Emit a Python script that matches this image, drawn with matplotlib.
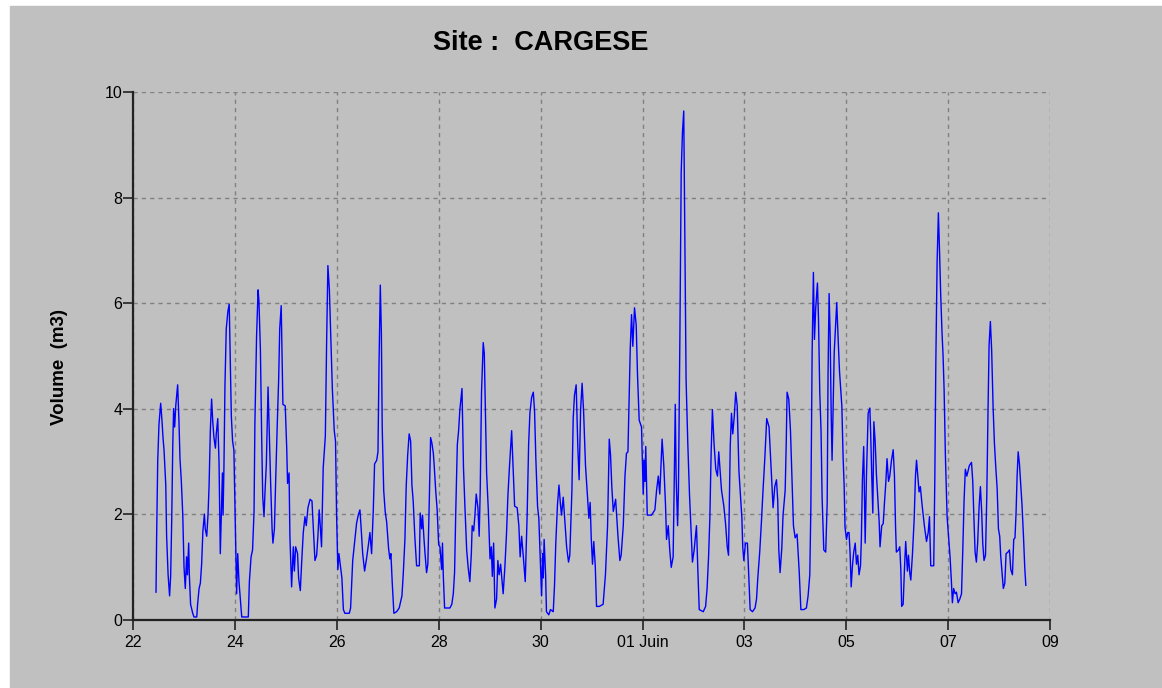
import matplotlib
matplotlib.use("Agg")
import numpy as np
import matplotlib.pyplot as plt
from matplotlib.patches import Rectangle

plt.rcParams['font.family'] = ['Liberation Sans', 'DejaVu Sans']

# hours since 22 May 00:00 and volume (m3)
hours = [
    10.7, 11.0, 11.5, 12.1, 12.9, 13.5, 14.0, 14.5, 15.3, 15.7, 16.4, 17.1, 17.6, 18.1, 18.6, 19.0, 19.5, 20.0,
    20.9, 21.5, 22.0, 22.6, 23.3, 23.9, 24.5, 25.1, 25.5, 26.1, 26.4, 27.0, 28.0, 28.6, 29.9, 30.3, 31.0, 31.6,
    32.2, 32.8, 33.5, 33.9, 34.6, 35.2, 35.7, 36.3, 36.9, 37.4, 38.0, 38.7, 39.1, 39.8, 40.4, 41.0, 41.5, 42.0,
    42.3, 42.7, 43.2, 43.8, 44.6, 45.2, 45.6, 46.2, 46.8, 47.4, 48.1, 48.7, 49.2, 49.8,
    51.1, 54.2, 54.7, 55.5, 56.2, 56.9, 57.3, 58.1, 58.8, 59.2, 59.9, 60.5, 61.0, 61.6, 62.1, 62.7, 63.5, 63.9,
    64.7, 65.4, 65.8, 66.5, 67.1, 67.9, 68.5, 69.0, 69.7, 70.1, 70.5, 71.6, 72.3, 72.7, 73.4, 73.8, 74.6, 75.4,
    75.9, 76.5, 77.4, 77.9, 78.7, 79.3, 80.1, 80.9, 81.5, 82.3, 83.3, 84.2, 85.0, 85.6, 86.4, 87.0, 87.6, 88.1,
    88.7, 89.5, 90.5, 91.1, 91.7, 92.4, 93.0, 93.8, 94.7, 95.3, 95.8, 96.4, 96.9,
    98.3, 99.0, 99.7, 101.8, 102.4, 102.9, 103.4, 104.0, 104.6, 105.2, 106.0, 106.8, 107.3, 108.1, 109.0, 109.9,
    110.9, 111.5, 112.3, 113.1, 113.7, 114.7, 115.3, 115.8, 116.4, 116.9, 117.3, 118.0, 118.7, 119.4, 120.3,
    120.9, 121.4, 122.0, 122.8, 124.1, 125.3, 126.6, 127.2, 128.0, 128.6, 129.3, 130.0, 130.7, 131.3, 131.9,
    132.7, 133.5, 134.8, 135.2, 135.9, 136.3, 137.0, 137.6, 138.2, 138.8, 139.5, 140.1, 140.7, 141.4, 141.8,
    142.5, 143.2, 143.9,
    144.5, 145.3, 145.7, 146.1, 146.7, 149.2, 150.1, 150.8, 151.4, 152.0, 152.7, 153.3, 153.9, 154.9, 155.2,
    155.6, 156.3, 157.1, 157.8, 158.6, 159.3, 159.7, 160.4, 161.0, 161.6, 162.4, 163.0, 163.5, 164.1, 164.9,
    165.4, 165.9, 166.5, 167.3, 168.1, 168.7, 169.2, 169.8, 170.4, 171.2, 171.8, 172.4, 173.1, 174.3, 175.1,
    175.9, 176.5, 177.2, 178.3, 179.0, 179.7, 180.9, 181.7, 182.3, 183.0, 183.8, 184.7, 185.6, 186.3, 186.9,
    187.7, 188.5, 189.1, 189.7, 190.5, 191.1,
    192.4, 192.9, 193.2, 193.6, 194.3, 194.7, 195.8, 196.6, 197.9, 198.5, 199.1, 199.9, 200.6, 201.3, 201.8,
    202.6, 203.4, 204.2, 205.1, 205.7, 206.7, 207.3, 207.9, 208.7, 209.5, 210.1, 210.8, 211.5, 212.2, 213.1,
    214.1, 214.7, 215.3, 215.8, 216.4, 217.0, 217.7, 218.3, 219.6, 221.4, 222.5, 223.5, 224.3, 224.9, 225.5,
    226.2, 227.3, 228.4, 229.3, 229.9, 230.9, 231.7, 232.4, 233.1, 233.5, 234.2, 234.8, 235.4, 236.2, 237.0,
    237.6, 238.4,
    239.5, 240.3, 240.8, 241.1, 241.5, 242.2, 244.2, 245.8, 246.6, 247.4, 248.1, 248.6, 249.2, 250.0, 250.8,
    251.3, 252.1, 252.8, 253.5, 254.4, 254.9, 255.4, 255.8, 256.5, 256.9, 257.6, 258.2, 258.8, 259.4, 259.9,
    260.5, 261.3, 262.1, 262.7, 263.5, 264.3, 265.4, 266.0, 266.7, 268.6, 269.7, 270.4, 271.1, 271.7, 272.3,
    272.9, 273.7, 274.5, 275.3, 275.9, 276.6, 277.2, 278.3, 279.1, 279.9, 280.5, 281.3, 281.9, 282.5, 283.2,
    283.9, 284.6, 285.4,
    286.8, 287.2, 287.7, 288.5, 289.4, 290.1, 290.7, 291.8, 293.0, 293.7, 294.3, 295.2, 296.0, 296.8, 297.6,
    298.5, 299.6, 300.7, 301.5, 302.3, 303.1, 303.7, 304.2, 304.8, 305.6, 306.2, 307.2, 307.7, 308.1, 308.9,
    309.7, 310.5, 311.1, 311.9, 312.8, 313.8, 314.6, 316.0, 317.2, 318.0, 318.8, 319.3, 319.9, 320.5, 321.0,
    321.6, 322.4, 322.9, 323.5, 324.1, 324.6, 325.4, 326.3, 327.0, 327.4, 327.9, 328.4, 328.9, 329.3, 330.3,
    331.1, 331.5, 332.2, 332.8,
    333.9, 334.5, 335.0, 335.4, 336.1, 336.7, 337.3, 337.8, 338.3, 338.9, 339.5, 340.2, 340.8, 341.4, 342.0,
    342.7, 343.1, 343.6, 344.2, 344.9, 345.5, 346.3, 347.1, 347.5, 348.0, 348.5, 349.0, 349.6, 350.2, 350.8,
    351.5, 351.9, 352.7, 353.4, 354.0, 354.6, 355.2, 355.9, 356.5, 357.3, 358.1, 358.7, 359.2, 359.6, 360.6,
    361.2, 361.7, 362.1, 362.8, 363.4, 364.0, 364.8, 365.3, 365.9, 366.4, 367.2, 368.0, 368.6, 369.1, 369.7,
    370.3, 370.9, 371.7, 372.8, 373.8, 374.6, 375.2, 375.8, 377.2, 377.7, 378.2, 378.8, 379.4, 379.9,
    380.5, 381.1, 381.6, 382.1, 382.7, 383.5, 384.3, 384.9, 385.5, 386.0, 386.6, 387.3, 387.9, 388.7, 389.5,
    390.3, 390.9, 391.5, 392.1, 392.8, 393.4, 394.0, 395.0, 395.6, 396.1, 396.7, 397.3, 397.9, 398.6, 399.2,
    399.8, 400.3, 400.9, 401.6, 402.2, 402.8, 403.3, 403.9, 404.5, 405.2, 405.8, 406.4, 407.1, 407.7, 408.3,
    408.8, 409.4, 410.0, 410.7, 411.3, 412.2, 412.9, 413.5, 414.3, 414.9, 415.5, 416.0, 416.5, 417.0, 417.6,
    418.2, 418.8, 419.5, 420.1, 420.6,
]

volume = [
    0.52, 1.58, 3.0, 3.7, 4.1, 3.78, 3.45, 3.2, 2.55, 1.58, 0.85, 0.45, 0.82, 1.88, 3.3, 4.0, 3.65, 4.05,
    4.45, 3.78, 3.05, 2.65, 2.0, 1.0, 0.59, 1.19, 0.85, 1.45, 0.85, 0.29, 0.12, 0.05, 0.05, 0.29, 0.59, 0.69,
    1.05, 1.68, 2.0, 1.72, 1.58, 1.98, 2.52, 3.58, 4.18, 3.78, 3.45, 3.25, 3.52, 3.81, 2.98, 1.25, 2.05, 2.78,
    1.98, 2.85, 4.45, 5.51, 5.85, 5.98, 5.11, 3.85, 3.38, 3.22, 1.78, 0.49, 1.25, 0.72,
    0.05, 0.05, 0.72, 1.19, 1.32, 2.05, 3.71, 5.38, 6.25, 6.04, 5.11, 3.45, 2.32, 1.95, 2.45, 2.95, 4.41, 3.81,
    2.62, 1.72, 1.45, 1.72, 2.65, 3.78, 4.55, 5.51, 5.95, 4.98, 4.08, 4.05, 3.25, 2.58, 2.78, 1.58, 0.62, 1.38,
    0.92, 1.38, 1.25, 0.79, 0.55, 1.05, 1.65, 1.95, 1.78, 2.12, 2.28, 2.25, 1.58, 1.12, 1.22, 1.58, 2.08, 1.78,
    1.38, 2.88, 3.48, 5.25, 6.71, 6.25, 5.45, 4.38, 3.58, 3.38, 1.98, 0.95, 1.25,
    0.79, 0.19, 0.12, 0.12, 0.22, 0.65, 1.12, 1.35, 1.58, 1.82, 1.98, 2.08, 1.78, 1.25, 0.92, 1.15,
    1.45, 1.65, 1.25, 2.08, 2.95, 3.02, 3.18, 4.85, 6.34, 5.45, 3.65, 2.45, 2.05, 1.85, 1.35,
    1.15, 1.25, 0.72, 0.12, 0.15, 0.22, 0.45, 0.85, 1.52, 2.52, 3.12, 3.52, 3.38, 2.55, 2.25,
    1.55, 1.02, 1.02, 2.02, 1.72, 1.98, 1.52, 1.19, 0.89, 1.05, 2.28, 3.45, 3.35, 3.15, 2.92,
    2.45, 2.08, 1.42,
    1.38, 0.95, 1.45, 0.82, 0.22, 0.22, 0.29, 0.49, 0.89, 2.12, 3.32, 3.58, 3.98, 4.38, 3.78,
    2.88, 2.12, 1.32, 0.99, 0.72, 1.25, 1.78, 1.68, 1.98, 2.38, 2.12, 1.58, 2.48, 4.31, 5.25,
    5.05, 3.98, 2.78, 2.08, 1.15, 1.38, 0.82, 1.45, 0.22, 0.39, 1.12, 0.85, 1.05, 0.49, 0.99,
    1.65, 2.32, 2.85, 3.58, 2.85, 2.15, 2.12, 1.78, 1.19, 1.58, 1.19, 0.72, 1.98, 3.32, 3.91,
    4.21, 4.31, 3.95, 3.05, 2.15, 1.92,
    0.45, 1.25, 0.79, 1.52, 0.85, 0.15, 0.09, 0.19, 0.15, 0.65, 1.45, 2.18, 2.55, 2.18, 1.98,
    2.32, 1.85, 1.38, 1.09, 1.22, 2.45, 3.81, 4.25, 4.45, 3.25, 2.65, 3.98, 4.48, 3.95, 2.92,
    2.28, 1.92, 2.22, 1.55, 1.05, 1.48, 1.02, 0.25, 0.25, 0.29, 0.85, 1.78, 3.42, 3.12, 2.52,
    2.05, 2.28, 1.58, 1.12, 1.22, 1.78, 2.72, 3.15, 3.18, 3.88, 5.15, 5.78, 5.18, 5.91, 5.58,
    4.65, 3.78,
    3.65, 2.38, 3.02, 2.62, 3.28, 1.98, 1.98, 2.08, 2.45, 2.72, 2.38, 2.85, 3.42, 2.92, 2.18,
    1.52, 1.78, 1.32, 0.99, 1.19, 2.55, 4.08, 2.72, 1.78, 2.45, 5.45, 8.48, 9.24, 9.64, 7.38,
    4.55, 3.35, 2.38, 1.82, 1.09, 1.32, 1.78, 0.99, 0.19, 0.15, 0.25, 0.59, 1.19, 1.92, 3.15,
    3.98, 3.32, 2.85, 2.72, 3.18, 2.78, 2.45, 2.15, 1.82, 1.38, 1.22, 3.28, 3.91, 3.52, 3.85,
    4.31, 4.05, 2.82,
    1.92, 1.38, 1.12, 1.45, 1.45, 0.79, 0.19, 0.15, 0.22, 0.39, 0.79, 1.28, 1.85, 2.48, 3.05,
    3.81, 3.65, 2.78, 2.12, 2.52, 2.65, 2.25, 1.32, 0.89, 1.35, 1.98, 2.45, 3.35, 4.31, 4.18,
    3.58, 2.58, 1.78, 1.55, 1.62, 0.92, 0.19, 0.19, 0.22, 0.45, 0.85, 2.12, 5.05, 6.58, 5.31,
    5.91, 6.38, 5.71, 4.31, 3.58, 2.32, 1.32, 1.28, 2.22, 4.65, 6.18, 5.38, 3.85, 3.02, 5.05,
    5.71, 6.01, 5.28, 4.71,
    4.05, 3.08, 2.52, 1.75, 1.52, 1.65, 1.65, 1.25, 0.62, 1.02, 1.28, 1.45, 1.05, 1.22, 0.85,
    1.02, 1.52, 2.65, 3.28, 1.45, 2.72, 3.91, 4.01, 3.52, 2.72, 2.02, 3.75, 3.38, 2.75, 2.35,
    1.85, 1.38, 1.78, 1.82, 2.22, 2.58, 3.05, 2.62, 2.72, 3.02, 3.22, 2.72, 1.78, 1.28, 1.32,
    1.38, 0.95, 0.25, 0.29, 0.95, 1.48, 0.92, 1.22, 0.89, 0.75, 1.25, 1.92, 2.72, 3.02, 2.72,
    2.42, 2.52, 2.18, 1.78, 1.48, 1.65, 1.95, 1.02, 1.02, 2.58, 4.88, 6.78, 7.71, 7.04,
    6.15, 5.45, 5.01, 4.35, 3.12, 1.95, 1.52, 1.19, 0.75, 0.32, 0.59, 0.49, 0.52, 0.32, 0.39,
    0.49, 1.32, 2.25, 2.85, 2.72, 2.82, 2.92, 2.98, 2.62, 1.98, 1.28, 1.09, 1.45, 2.15, 2.52,
    2.05, 1.45, 1.12, 1.22, 2.32, 3.98, 5.21, 5.65, 5.11, 4.01, 3.35, 2.92, 2.48, 1.72, 1.58,
    1.19, 0.89, 0.59, 0.69, 1.25, 1.28, 1.32, 0.95, 0.85, 1.52, 1.55, 2.02, 2.72, 3.18, 2.95,
    2.58, 2.18, 1.58, 0.99, 0.65,
]

day_ticks = [0, 2, 4, 6, 8, 10, 12, 14, 16, 18]
day_labels = ["22", "24", "26", "28", "30", "01 Juin", "03", "05", "07", "09"]
y_ticks = [0, 2, 4, 6, 8, 10]

W, H = 1162, 688
bg = "#c0c0c0"

fig = plt.figure(figsize=(W / 100, H / 100), dpi=100, facecolor="white")
fig.patches.append(Rectangle((10 / W, 0), (W - 10) / W, (H - 6) / H,
                             transform=fig.transFigure, color=bg, zorder=-1))

ax = fig.add_axes([133.3 / W, 68.4 / H, 916.7 / W, 527.6 / H])
ax.set_facecolor(bg)

days = np.array(hours) / 24.0
ax.plot(days, volume, color="#0000ff", lw=1.0, zorder=3)

ax.set_xlim(0, 18)
ax.set_ylim(0, 10)
ax.set_xticks(day_ticks)
ax.set_xticklabels(day_labels)
ax.set_yticks(y_ticks)

ax.grid(True, color="#808080", linestyle=(0, (3, 3)), lw=1.0)
for s in ["top", "right"]:
    ax.spines[s].set_visible(False)
for s in ["left", "bottom"]:
    ax.spines[s].set_linewidth(1.6)
    ax.spines[s].set_color("#222222")

ax.tick_params(direction="out", length=7, width=1.2, color="#222222",
               labelsize=11.5, labelcolor="black")
ax.tick_params(axis="x", pad=4)
ax.tick_params(axis="y", pad=1)

fig.text(541 / W, 1 - 43 / H, "Site :  CARGESE", ha="center", va="center",
         fontsize=19.5, fontweight="bold")
fig.text(60 / W, 1 - 367 / H, "Volume  (m3)", ha="center", va="center",
         rotation=90, fontsize=13.5, fontweight="bold")

fig.savefig("out.png", dpi=100, facecolor=fig.get_facecolor())
